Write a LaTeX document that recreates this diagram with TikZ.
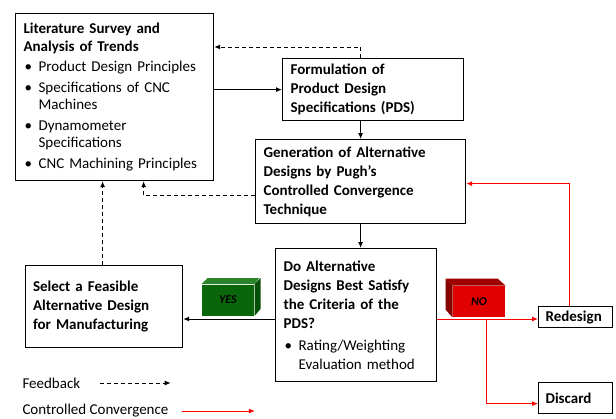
\documentclass[tikz,border=0pt]{standalone}
\usepackage{fontspec}
\setmainfont{Carlito}
\usetikzlibrary{arrows.meta, positioning}
\definecolor{cgreen}{HTML}{0A660A}
\definecolor{cgreentop}{HTML}{2A852A}
\definecolor{cgreenside}{HTML}{064F06}
\definecolor{cred}{HTML}{E00000}
\definecolor{credtop}{HTML}{9E0000}
\newcommand{\bul}{\hspace*{1pt}\makebox[14pt][l]{\textbullet}}
\newcommand{\ind}{\hspace*{15pt}}
\tikzset{
  every picture/.style={line width=1pt},
  box/.style={draw, line width=1.2pt, fill=white, align=left, anchor=north west, inner xsep=8pt, inner ysep=2pt, font=\fontsize{15}{19}\selectfont\bfseries},
  arrow/.style={-{Latex[length=6pt,width=5pt]}},
  feedback/.style={arrow, dash pattern=on 4pt off 3pt},
  conv/.style={arrow, draw=red},
  cube/.style={minimum width=52pt, minimum height=31pt, inner sep=0pt, font=\fontsize{12}{14}\selectfont\bfseries\itshape},
  key/.style={anchor=west, inner sep=0pt, font=\fontsize{15}{18}\selectfont},
}

\begin{document}
\begin{tikzpicture}[x=1pt, y=-1pt]
  \useasboundingbox (0,0) rectangle (616,418);
  % boxes
  \node[box, text width=182pt, minimum height=167pt, font=\fontsize{15}{17.5}\selectfont\bfseries] (lit) at (15,13)
    {Literature Survey and\\ Analysis of Trends\\[3pt]
     \mdseries\bul Product Design Principles\\[3pt]
     \bul Specifications of CNC\\ \ind Machines\\[3pt]
     \bul Dynamometer\\ \ind Specifications\\[3pt]
     \bul CNC Machining Principles};
  \node[box, text width=165pt, minimum height=62pt] (pds) at (282,58)
    {Formulation of\\ Product Design\\ Specifications (PDS)};
  \node[box, text width=194pt, minimum height=84pt] (gen) at (255,139)
    {Generation of Alternative\\ Designs by Pugh's\\ Controlled Convergence\\ Technique};
  \node[box, text width=145pt, minimum height=133pt] (eval) at (275,248)
    {Do Alternative\\ Designs Best Satisfy\\ the Criteria of the\\ PDS?\\[3pt]
     \mdseries\bul Rating/Weighting\\ \ind Evaluation method};
  \node[box, text width=142pt, inner xsep=7.5pt, minimum height=82pt] (select) at (25,265)
    {Select a Feasible\\ Alternative Design\\ for Manufacturing};
  \node[box, text width=60pt, inner xsep=7pt, minimum height=21pt, inner ysep=0pt] (redesign) at (538,306)
    {\mbox{Redesign}};
  \node[box, text width=60pt, inner xsep=7pt, minimum height=31pt] (discard) at (538,382)
    {Discard};

  % yes / no blocks
  \node[cube, fill=cgreen] (yes) at (228,300) {YES};
  \fill[cgreentop] (yes.north west) -- ++(6,-6) -- ++(52,0) -- (yes.north east) -- cycle;
  \fill[cgreenside] (yes.north east) -- ++(6,-6) -- ++(0,31) -- (yes.south east) -- cycle;
  \node[cube, fill=cred] (no) at (479,301.5) {NO};
  \fill[credtop] (no.north west) -- ++(-7,-7) -- ++(52,0) -- (no.north east) -- cycle;
  \fill[credtop!85!black] (no.north west) -- ++(-7,-7) -- ++(0,31) -- (no.south west) -- cycle;

  % main flow
  \draw[arrow] (pds.west -| lit.east) -- (pds.west);
  \draw[arrow] (gen.north |- pds.south) -- (gen.north);
  \draw[arrow] (gen.south) -- (gen.south |- eval.north);
  \draw[arrow] (eval.west |- 0,319) -- (select.east |- 0,319);

  % feedback
  \draw[feedback] (gen.north |- pds.north) -- ++(0,-11) -- (lit.east |- 0,47);
  \draw[feedback] ([yshift=-14pt]gen.west) -| ([xshift=29pt]lit.south);
  \draw[feedback] ([xshift=-1.5pt]select.north) -- ([xshift=-1.5pt]select.north |- lit.south);

  % controlled convergence
  \coordinate (split) at (486,319);
  \draw[conv] (eval.east |- split) -- (redesign.west |- split);
  \draw[conv] (split) |- ([yshift=-5.5pt]discard.west);
  \draw[conv] ([xshift=-6pt]redesign.north) |- ([yshift=-2pt]gen.east);

  % legend
  \node[key] (fbkey) at (22,383) {Feedback};
  \draw[feedback] ([xshift=19pt]fbkey.east) -- ++(71,0);
  \node[key] (cckey) at (22,411) {Controlled Convergence};
  \draw[conv] ([xshift=13pt]cckey.east) -- ++(73,0);
\end{tikzpicture}
\end{document}
